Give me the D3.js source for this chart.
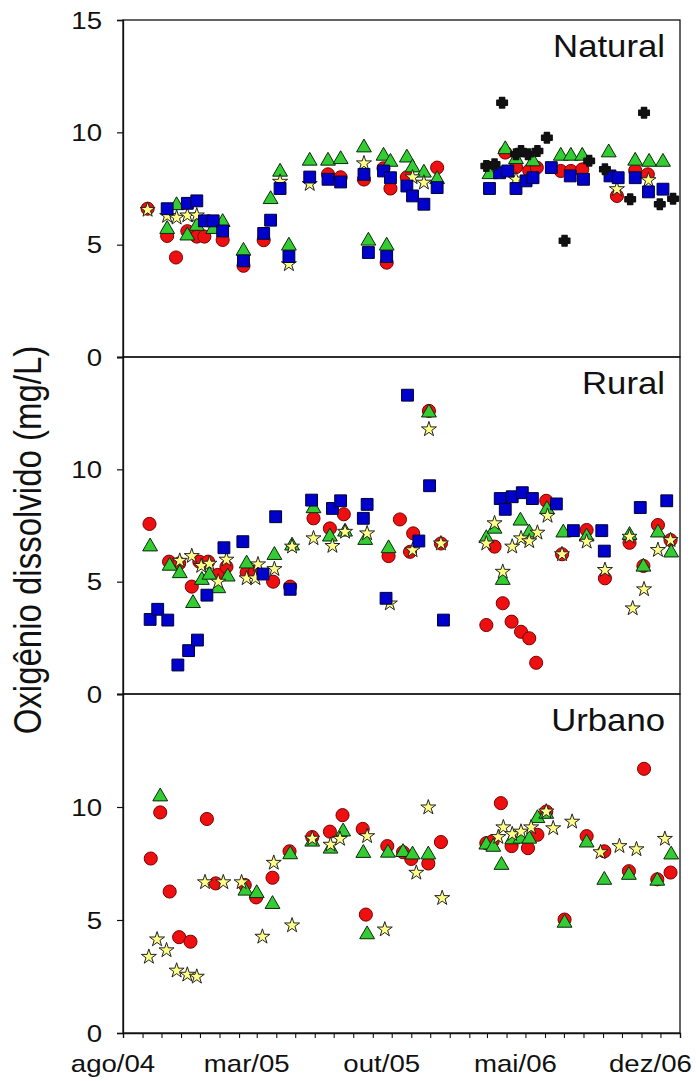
<!DOCTYPE html>
<html><head><meta charset="utf-8">
<script src="https://cdn.jsdelivr.net/npm/d3@7"></script>
<style>
html,body{margin:0;padding:0;background:#fff;}
svg{display:block;}
text{font-family:"Liberation Sans",Arial,sans-serif;fill:#111;}
</style></head>
<body><svg id="chart" width="696" height="1081"></svg>
<script>
// ---------- DATA ----------
const panelNames = ["Natural", "Rural", "Urbano"];
const yTicks = [0, 5, 10, 15];
const xTickDates = ["2004-08-01", "2005-03-01", "2005-10-01", "2006-05-01", "2006-12-01"];
const xTickLabels = ["ago/04", "mar/05", "out/05", "mai/06", "dez/06"];
const yTitle = "Oxigênio dissolvido (mg/L)";

const natCircle = [["2004-09-09",6.6],["2004-10-10",5.39],["2004-10-24",4.43],["2004-11-11",5.6],["2004-11-26",5.36],["2004-12-08",5.36],["2005-01-06",5.21],["2005-02-08",4.06],["2005-03-12",5.2],["2005-06-22",8.13],["2005-07-12",8.0],["2005-08-18",7.9],["2005-09-18",8.4],["2005-09-23",4.2],["2005-09-29",7.5],["2005-10-25",8.0],["2005-12-12",8.43],["2006-03-30",9.1],["2006-04-16",8.45],["2006-05-07",8.3],["2006-05-19",8.43],["2006-06-26",8.28],["2006-07-12",8.28],["2006-07-30",8.35],["2006-09-23",7.17],["2006-10-22",8.3],["2006-11-11",8.13]];
const natTriangle = [["2004-10-10",5.69],["2004-10-25",6.75],["2004-11-11",5.4],["2004-11-26",5.83],["2004-12-22",5.69],["2005-01-06",6.0],["2005-02-08",4.72],["2005-03-23",7.02],["2005-04-07",8.24],["2005-04-21",4.95],["2005-05-24",8.73],["2005-06-22",8.73],["2005-07-12",8.8],["2005-08-18",9.32],["2005-08-25",5.17],["2005-09-18",8.95],["2005-09-23",4.95],["2005-09-29",8.68],["2005-10-25",8.87],["2005-11-03",8.43],["2005-11-21",8.2],["2005-12-12",7.91],["2006-03-05",8.13],["2006-03-30",9.24],["2006-04-16",8.8],["2006-05-13",8.7],["2006-06-26",8.95],["2006-07-12",8.95],["2006-07-30",8.95],["2006-09-10",9.1],["2006-10-22",8.73],["2006-11-13",8.68],["2006-12-05",8.68]];
const natSquare = [["2004-10-10",6.6],["2004-11-11",6.84],["2004-11-26",6.95],["2004-12-08",6.06],["2004-12-22",6.06],["2005-01-06",5.61],["2005-02-08",4.28],["2005-03-12",5.5],["2005-03-23",6.09],["2005-04-07",7.5],["2005-04-21",4.47],["2005-05-24",8.01],["2005-06-22",7.91],["2005-07-12",7.79],["2005-08-18",8.13],["2005-08-25",4.65],["2005-09-18",8.28],["2005-09-23",4.47],["2005-09-29",7.98],["2005-10-25",7.61],["2005-11-03",7.17],["2005-11-21",6.8],["2005-12-12",7.54],["2006-03-05",7.5],["2006-03-21",8.2],["2006-04-03",8.28],["2006-04-16",7.5],["2006-05-02",7.84],["2006-05-13",7.98],["2006-06-11",8.43],["2006-07-11",8.06],["2006-08-01",7.91],["2006-09-12",8.06],["2006-09-25",7.98],["2006-10-22",7.98],["2006-11-12",7.35],["2006-12-05",7.47]];
const natStar = [["2004-09-09",6.55],["2004-10-10",6.28],["2004-10-25",6.2],["2004-11-11",6.3],["2004-11-26",6.3],["2005-04-07",7.8],["2005-04-21",4.13],["2005-05-24",7.7],["2005-08-18",8.62],["2005-11-03",8.0],["2005-11-21",7.76],["2006-04-16",7.9],["2006-09-23",7.47],["2006-11-12",7.87]];
const natCross = [["2006-02-28",8.5],["2006-03-13",8.58],["2006-03-25",11.32],["2006-04-16",9.02],["2006-04-24",9.17],["2006-05-05",9.02],["2006-05-20",9.17],["2006-06-04",9.76],["2006-07-02",5.17],["2006-08-10",8.73],["2006-09-04",8.36],["2006-10-14",7.02],["2006-11-05",10.87],["2006-11-30",6.8],["2006-12-21",7.04]];

const rurCircle = [["2004-09-12",7.57],["2004-10-13",5.89],["2004-10-29",5.81],["2004-11-18",4.78],["2004-11-30",5.89],["2004-12-14",5.89],["2004-12-29",5.3],["2005-01-12",5.66],["2005-02-13",5.4],["2005-02-26",5.44],["2005-03-27",5.0],["2005-04-23",4.78],["2005-05-30",7.82],["2005-06-25",7.37],["2005-07-17",8.0],["2005-09-26",6.14],["2005-10-14",7.77],["2005-10-30",6.33],["2005-11-04",7.15],["2005-11-29",12.6],["2005-12-18",6.7],["2006-02-28",3.07],["2006-03-13",6.56],["2006-03-26",4.04],["2006-04-09",3.22],["2006-04-24",2.77],["2006-05-07",2.48],["2006-05-18",1.39],["2006-06-03",8.6],["2006-06-28",6.22],["2006-08-06",7.3],["2006-09-04",5.15],["2006-10-13",6.73],["2006-11-04",5.7],["2006-11-27",7.52],["2006-12-17",6.85]];
const rurTriangle = [["2004-09-13",6.56],["2004-10-14",5.7],["2004-10-30",5.37],["2004-11-20",4.04],["2004-12-04",5.07],["2004-12-16",5.3],["2004-12-30",4.7],["2005-01-14",5.22],["2005-02-13",5.8],["2005-03-29",6.18],["2005-04-26",6.6],["2005-05-30",8.26],["2005-06-25",7.0],["2005-07-19",7.22],["2005-08-20",6.85],["2005-09-26",6.48],["2005-11-29",12.52],["2006-02-28",6.93],["2006-03-13",7.35],["2006-03-26",5.07],["2006-04-23",7.71],["2006-05-07",7.18],["2006-06-04",8.22],["2006-06-30",7.18],["2006-08-06",7.0],["2006-10-13",7.07],["2006-11-04",5.66],["2006-11-27",7.18],["2006-12-18",6.29]];
const rurSquare = [["2004-09-13",3.32],["2004-09-25",3.77],["2004-10-11",3.29],["2004-10-27",1.29],["2004-11-13",1.93],["2004-11-27",2.4],["2004-12-12",4.4],["2005-01-08",6.51],["2005-02-07",6.78],["2005-03-11",5.34],["2005-03-31",7.89],["2005-04-23",4.66],["2005-05-27",8.63],["2005-06-29",8.26],["2005-07-12",8.6],["2005-08-17",7.82],["2005-08-23",8.44],["2005-09-22",4.26],["2005-10-26",13.3],["2005-11-13",6.81],["2005-11-30",9.27],["2005-12-22",3.29],["2006-03-22",8.7],["2006-03-30",8.22],["2006-04-10",8.78],["2006-04-26",8.96],["2006-05-12",8.7],["2006-06-19",8.46],["2006-07-16",7.27],["2006-08-30",7.27],["2006-09-03",6.36],["2006-10-30",8.3],["2006-12-11",8.6]];
const rurStar = [["2004-10-30",5.93],["2004-11-18",6.14],["2004-12-03",5.7],["2004-12-16",5.8],["2004-12-30",5.0],["2005-01-12",5.98],["2005-02-13",5.15],["2005-02-27",5.15],["2005-03-03",5.77],["2005-03-29",5.56],["2005-04-26",6.56],["2005-05-30",6.93],["2005-06-29",6.59],["2005-07-19",7.22],["2005-08-23",7.15],["2005-09-28",4.03],["2005-11-03",6.4],["2005-11-29",11.78],["2005-12-18",6.7],["2006-02-28",6.7],["2006-03-13",7.6],["2006-03-26",5.44],["2006-04-10",6.56],["2006-04-24",6.93],["2006-05-07",6.8],["2006-05-20",7.18],["2006-06-05",7.93],["2006-06-28",6.22],["2006-08-06",6.78],["2006-09-04",5.52],["2006-10-13",7.0],["2006-10-18",3.81],["2006-11-05",4.66],["2006-11-27",6.41],["2006-12-17",6.85]];

const urbCircle = [["2004-09-14",7.72],["2004-09-29",9.76],["2004-10-14",6.26],["2004-10-29",4.24],["2004-11-16",4.04],["2004-12-12",9.47],["2004-12-26",6.62],["2005-02-10",6.55],["2005-02-28",6.0],["2005-03-26",6.87],["2005-04-22",8.04],["2005-05-28",8.67],["2005-06-25",8.91],["2005-07-15",9.64],["2005-08-16",9.03],["2005-08-21",5.24],["2005-09-24",8.27],["2005-10-19",8.0],["2005-11-01",7.7],["2005-11-28",7.5],["2005-12-18",8.45],["2006-02-28",8.4],["2006-03-10",8.49],["2006-03-23",10.17],["2006-04-09",8.27],["2006-05-05",8.18],["2006-05-20",8.77],["2006-06-03",9.8],["2006-07-02",5.02],["2006-08-06",8.71],["2006-09-03",8.04],["2006-10-12",7.16],["2006-11-05",11.69],["2006-11-26",6.8],["2006-12-17",7.1]];
const urbTriangle = [["2004-09-29",10.46],["2005-02-11",6.29],["2005-03-01",6.18],["2005-03-26",5.7],["2005-04-23",7.9],["2005-05-28",8.46],["2005-06-26",8.15],["2005-07-16",8.91],["2005-08-17",7.96],["2005-08-23",4.36],["2005-09-25",7.97],["2005-10-19",8.0],["2005-11-03",7.89],["2005-11-28",7.89],["2006-02-28",8.33],["2006-03-11",8.23],["2006-03-24",7.43],["2006-04-10",8.56],["2006-04-23",8.59],["2006-05-07",8.59],["2006-05-20",9.5],["2006-06-03",9.69],["2006-07-02",4.87],["2006-08-06",8.42],["2006-09-03",6.77],["2006-10-12",6.99],["2006-11-26",6.73],["2006-12-18",7.89]];
const urbStar = [["2004-09-11",3.37],["2004-09-24",4.14],["2004-10-09",3.66],["2004-10-25",2.76],["2004-11-11",2.58],["2004-11-26",2.49],["2004-12-09",6.67],["2005-01-07",6.67],["2005-02-05",6.67],["2005-03-10",4.26],["2005-03-28",7.53],["2005-04-26",4.76],["2005-05-28",8.6],["2005-06-26",8.33],["2005-07-11",8.59],["2005-08-23",8.71],["2005-09-20",4.58],["2005-11-09",7.09],["2005-11-28",9.98],["2005-12-20",5.97],["2006-03-19",8.67],["2006-03-27",9.1],["2006-04-10",8.8],["2006-04-24",8.91],["2006-05-10",9.1],["2006-06-03",9.8],["2006-06-14",9.06],["2006-07-14",9.35],["2006-08-28",8.0],["2006-09-27",8.27],["2006-10-24",8.13],["2006-12-08",8.59]];

// ---------- LAYOUT / STYLE ----------
const svg = d3.select("#chart");
const parse = d3.timeParse("%Y-%m-%d");
const left = 123, right = 680;
const panelBox = [{top: 20, bottom: 357}, {top: 357, bottom: 694}, {top: 694, bottom: 1033}];
const x = d3.scaleTime().domain([new Date(2004, 7, 1), new Date(2007, 0, 1)]).range([left, right]);
const SX = 1.15; // horizontal stretch of the original typography

// chunky plus symbol (arms about half as wide as long)
const fatCross = {
  draw(ctx, size) {
    const L = Math.sqrt(size) / 2, w = L * 0.48;
    ctx.moveTo(-w, -L); ctx.lineTo(w, -L); ctx.lineTo(w, -w); ctx.lineTo(L, -w);
    ctx.lineTo(L, w); ctx.lineTo(w, w); ctx.lineTo(w, L); ctx.lineTo(-w, L);
    ctx.lineTo(-w, w); ctx.lineTo(-L, w); ctx.lineTo(-L, -w); ctx.lineTo(-w, -w);
    ctx.closePath();
  }
};

const styles = {
  circle:   {sym: d3.symbolCircle,   size: 135, fill: "#ee1010", stroke: "#7a0000", sw: 1},
  triangle: {sym: d3.symbolTriangle, size: 95,  fill: "#33cc33", stroke: "#0a2a0a", sw: 1},
  star:     {sym: d3.symbolStar,     size: 70,  fill: "#ffff88", stroke: "#222", sw: 1},
  square:   {sym: d3.symbolSquare,   size: 140, fill: "#0000cc", stroke: "#000033", sw: 1},
  cross:    {sym: fatCross,          size: 110, fill: "#111",    stroke: "#111", sw: 1.5}
};

const panels = [
  {name: panelNames[0], series: [["circle", natCircle], ["triangle", natTriangle], ["star", natStar], ["square", natSquare], ["cross", natCross]]},
  {name: panelNames[1], series: [["circle", rurCircle], ["triangle", rurTriangle], ["star", rurStar], ["square", rurSquare]]},
  {name: panelNames[2], series: [["circle", urbCircle], ["triangle", urbTriangle], ["star", urbStar]]}
];

panels.forEach((p, i) => {
  const box = panelBox[i];
  const y = d3.scaleLinear().domain([0, 15]).range([box.bottom, box.top]);
  const g = svg.append("g");

  g.append("rect").attr("x", left).attr("y", box.top)
    .attr("width", right - left).attr("height", box.bottom - box.top)
    .attr("fill", "none").attr("stroke", "#111").attr("stroke-width", 1.3);

  const ax = g.append("g").attr("transform", `translate(${left},0)`)
    .call(d3.axisLeft(y).tickValues(yTicks).tickSize(6).tickFormat(""));
  ax.select(".domain").attr("stroke", "#111").attr("stroke-width", 1.3);
  ax.selectAll(".tick line").attr("stroke", "#111").attr("stroke-width", 1.2);

  const labTicks = i === 0 ? yTicks : yTicks.filter(t => t < 15);
  g.selectAll(".ylab").data(labTicks).enter().append("text")
    .attr("transform", d => `translate(102,${y(d) + 8.5}) scale(${SX},1)`)
    .attr("text-anchor", "end").attr("font-size", 24)
    .text(d => d);

  g.append("text")
    .attr("transform", `translate(665,${box.top + 37}) scale(1.12,1)`)
    .attr("text-anchor", "end").attr("font-size", 31)
    .text(p.name);

  p.series.forEach(([kind, data]) => {
    const st = styles[kind];
    const sym = d3.symbol().type(st.sym).size(st.size);
    g.append("g").selectAll("path").data(data).enter().append("path")
      .attr("d", sym)
      .attr("transform", d => `translate(${x(parse(d[0]))},${y(d[1])})`)
      .attr("fill", st.fill).attr("stroke", st.stroke).attr("stroke-width", st.sw)
      .attr("stroke-linejoin", "round");
  });
});

const bottom = panelBox[2].bottom;
const xa = svg.append("g").attr("transform", `translate(0,${bottom})`)
  .call(d3.axisBottom(x).ticks(d3.timeMonth.every(1)).tickSize(5).tickFormat(""));
xa.select(".domain").attr("stroke", "#111").attr("stroke-width", 1.3);
xa.selectAll(".tick line").attr("stroke", "#111").attr("stroke-width", 1.1);

svg.selectAll(".xlab").data(xTickDates).enter().append("text")
  .attr("transform", (d) => `translate(${x(parse(d)) - 10},${bottom + 39}) scale(${SX},1)`)
  .attr("text-anchor", "middle").attr("font-size", 24)
  .text((d, i) => xTickLabels[i]);

svg.append("text")
  .attr("transform", `translate(41,540) scale(${SX},1) rotate(-90)`)
  .attr("text-anchor", "middle").attr("font-size", 33)
  .text(yTitle);
</script></body></html>
